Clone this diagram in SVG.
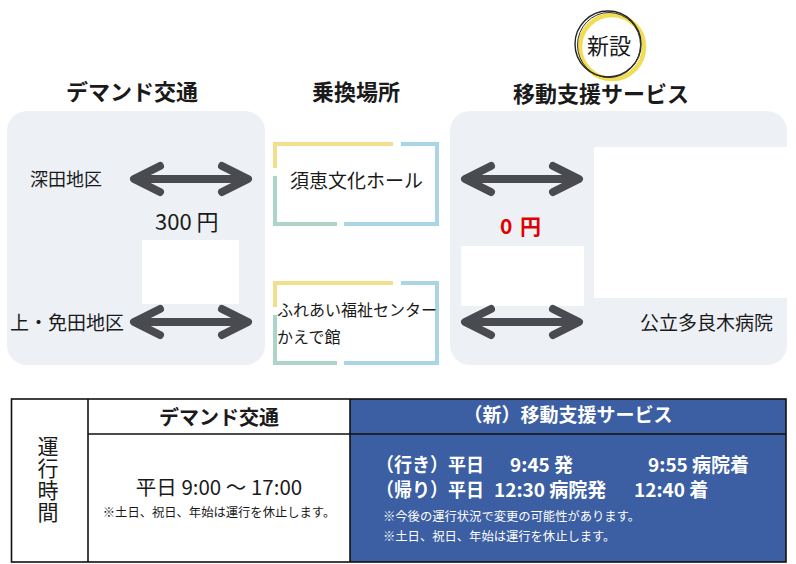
<svg xmlns="http://www.w3.org/2000/svg" xmlns:xlink="http://www.w3.org/1999/xlink" width="796" height="564" viewBox="0 0 796 564">
<style>
text{font-family:"Noto Sans CJK JP","Noto Sans",sans-serif;fill:#1a1a1a}
.h{font-size:22px;font-weight:bold}
.lbl{font-size:18px}
.panel{fill:#edf1f6}
.wb{fill:#ffffff}
.fy{stroke:#f2df8c;stroke-width:4;fill:none}
.fb{stroke:#a9d5e6;stroke-width:4;fill:none}
.fg{stroke:#acd4c8;stroke-width:4;fill:none}
.arr{stroke:#4a4b50;stroke-width:8;fill:none;stroke-linecap:round;stroke-linejoin:round}
.tl{stroke:#111;stroke-width:1.6;fill:none}
.w{fill:#ffffff}
.note{font-size:12.3px}
.sch{font-size:19px;font-weight:bold}
</style>
<defs>
<g id="dbl">
<path class="arr" d="M4 0 H110 M26 -13 L0 0 L26 13 M88 -13 L114 0 L88 13"/>
</g>
</defs>

<g id="header-demand"><text class="h" x="132" y="100" text-anchor="middle">デマンド交通</text></g>
<g id="header-transfer"><text class="h" x="356" y="100" text-anchor="middle">乗換場所</text></g>
<g id="header-mobility"><text class="h" x="601" y="102" text-anchor="middle">移動支援サービス</text></g>

<g id="badge-new">
<circle cx="612" cy="47" r="32" fill="none" stroke="#f0dd52" stroke-width="4.5"/>
<circle cx="608" cy="44" r="33" fill="none" stroke="#222" stroke-width="1.4"/>
<ellipse cx="609" cy="45" rx="31.5" ry="32.5" fill="none" stroke="#333" stroke-width="1"/>
<text x="609" y="54" font-size="22" text-anchor="middle">新設</text>
</g>

<g id="panel-demand">
<rect class="panel" x="7" y="111" width="258" height="254" rx="20"/>
<rect class="wb" x="142" y="240" width="97" height="64"/>
<text class="lbl" x="30" y="186">深田地区</text>
<text x="155" y="230" font-size="22">300 円</text>
<text x="10" y="330" font-size="19">上・免田地区</text>
</g>

<g id="panel-mobility">
<rect class="panel" x="450" y="111" width="337" height="254" rx="20"/>
<rect class="wb" x="594" y="147" width="193" height="151"/>
<rect class="wb" x="461" y="246" width="123" height="60"/>
<text x="500" y="234" font-size="21" font-weight="bold" style="fill:#e00000">0</text>
<text x="520" y="234" font-size="21" font-weight="bold" style="fill:#e00000">円</text>
<text x="640" y="330" font-size="19">公立多良木病院</text>
</g>

<g id="transfer-sue">
<rect x="275" y="144" width="162" height="80" fill="#fff"/>
<path class="fy" d="M275 168 V144 H393"/>
<path class="fb" d="M401 144 H437 V224 H344"/>
<path class="fg" d="M337 224 H275 V176"/>
<text x="290" y="188" font-size="19">須恵文化ホール</text>
</g>

<g id="transfer-fureai">
<rect x="275" y="283" width="162" height="80" fill="#fff"/>
<path class="fy" d="M275 307 V283 H393"/>
<path class="fb" d="M401 283 H437 V363 H344"/>
<path class="fg" d="M337 363 H275 V315"/>
<text x="277" y="316" font-size="16">ふれあい福祉センター</text>
<text x="277" y="343" font-size="16">かえで館</text>
</g>

<g id="connectors">
<use xlink:href="#dbl" x="134" y="179"/>
<use xlink:href="#dbl" x="134" y="322"/>
<use xlink:href="#dbl" x="465" y="179"/>
<use xlink:href="#dbl" x="465" y="322"/>
</g>

<g id="schedule-table">
<rect x="350" y="399" width="436" height="163" fill="#3c5ea2"/>
<rect class="tl" x="11.5" y="399" width="774.5" height="163"/>
<line class="tl" x1="88" y1="399" x2="88" y2="562"/>
<line class="tl" x1="350" y1="399" x2="350" y2="562"/>
<line class="tl" x1="88" y1="434" x2="786" y2="434"/>
<text x="48" y="436" font-size="21" letter-spacing="1" writing-mode="tb" style="writing-mode:vertical-rl">運行時間</text>
<text x="219" y="425" font-size="20" font-weight="bold" text-anchor="middle">デマンド交通</text>
<text x="219" y="495" font-size="20.5" text-anchor="middle">平日 9:00 ～ 17:00</text>
<text class="note" x="219" y="517" text-anchor="middle">※土日、祝日、年始は運行を休止します。</text>
<text class="w" x="568" y="422" font-size="19" font-weight="bold" text-anchor="middle">（新）移動支援サービス</text>
<text class="w sch" x="376" y="472" textLength="108" lengthAdjust="spacingAndGlyphs">（行き）平日</text>
<text class="w sch" x="510" y="472">9:45 発</text>
<text class="w sch" x="648" y="472">9:55 病院着</text>
<text class="w sch" x="376" y="497" textLength="108" lengthAdjust="spacingAndGlyphs">（帰り）平日</text>
<text class="w sch" x="494" y="497">12:30 病院発</text>
<text class="w sch" x="634" y="497">12:40 着</text>
<text class="note w" x="383" y="521">※今後の運行状況で変更の可能性があります。</text>
<text class="note w" x="383" y="541">※土日、祝日、年始は運行を休止します。</text>
</g>
</svg>
